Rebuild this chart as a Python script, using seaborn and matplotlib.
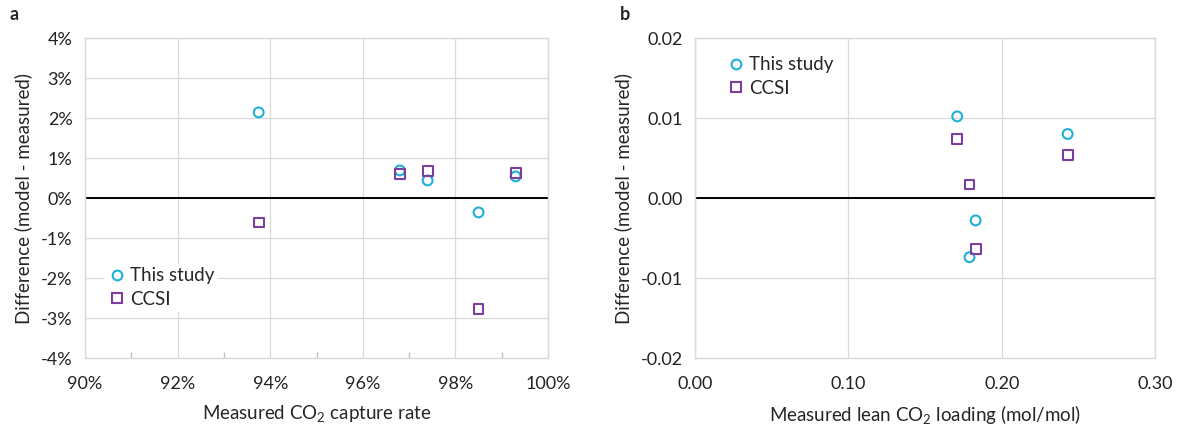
import numpy as np
import pandas as pd
import matplotlib
matplotlib.use("Agg")
import matplotlib.pyplot as plt
import seaborn as sns
from matplotlib.lines import Line2D
from matplotlib.ticker import FuncFormatter, MultipleLocator

# ---- data ----
capture_rate = [0.9375, 0.968, 0.974, 0.985, 0.993]
capture_this_study = [0.0214, 0.0069, 0.0044, -0.0036, 0.0054]
capture_ccsi = [-0.0061, 0.0060, 0.0068, -0.0277, 0.0062]

lean_loading_this = [0.171, 0.243, 0.183, 0.179]
lean_this_study = [0.0102, 0.0080, -0.0028, -0.0074]
lean_loading_ccsi = [0.171, 0.243, 0.179, 0.183]
lean_ccsi = [0.0074, 0.0054, 0.0017, -0.0064]

series_names = ["This study", "CCSI"]
cyan = "#1fb0d6"
purple = "#7a3fa0"

sns.set_theme(style="white")
plt.rcParams['font.family'] = ['Lato', 'DejaVu Sans']
plt.rcParams['mathtext.fontset'] = 'custom'
plt.rcParams['mathtext.rm'] = 'Lato'
plt.rcParams['mathtext.it'] = 'Lato:italic'

fig = plt.figure(figsize=(11.78, 4.30), dpi=100)
ax1 = fig.add_axes([0.0722, 0.1674, 0.393, 0.7442])
ax2 = fig.add_axes([0.590, 0.1674, 0.3905, 0.7442])

grid_c = "#d9d9d9"
fs_tick = 13
fs_lab = 13.5


def style_axes(ax):
    for s in ax.spines.values():
        s.set_color(grid_c)
        s.set_linewidth(1.0)
    ax.grid(True, color=grid_c, linewidth=0.9)
    ax.set_axisbelow(True)
    ax.axhline(0, color="black", linewidth=1.4, zorder=1.5)
    ax.tick_params(axis='both', which='major', length=0, labelsize=fs_tick,
                   colors="#222222")
    ax.tick_params(axis='x', which='major', pad=13)
    ax.tick_params(axis='y', which='major', pad=9)


def scatter_open(ax, x, y, marker, color, label):
    df = pd.DataFrame({"x": x, "y": y})
    sns.scatterplot(data=df, x="x", y="y", ax=ax, marker=marker, s=50,
                    facecolor="none", edgecolor=color, linewidth=1.5,
                    label=label, zorder=3, legend=False)


def legend_handles():
    return [Line2D([], [], linestyle="none", marker="o", markersize=7,
                   markerfacecolor="none", markeredgecolor=cyan, markeredgewidth=1.5,
                   label=series_names[0]),
            Line2D([], [], linestyle="none", marker="s", markersize=7,
                   markerfacecolor="none", markeredgecolor=purple, markeredgewidth=1.5,
                   label=series_names[1])]


# ---- panel a ----
scatter_open(ax1, capture_rate, capture_this_study, "o", cyan, series_names[0])
scatter_open(ax1, capture_rate, capture_ccsi, "s", purple, series_names[1])
style_axes(ax1)
ax1.set_xlim(0.90, 1.00)
ax1.set_ylim(-0.04, 0.04)
ax1.xaxis.set_major_locator(MultipleLocator(0.02))
ax1.xaxis.set_minor_locator(MultipleLocator(0.01))
ax1.yaxis.set_major_locator(MultipleLocator(0.01))
ax1.xaxis.set_major_formatter(FuncFormatter(lambda v, p: f"{v*100:.0f}%"))
ax1.yaxis.set_major_formatter(FuncFormatter(lambda v, p: f"{v*100:.0f}%"))
ax1.tick_params(axis='x', which='minor', bottom=True, direction='in', length=4,
                color="#bfbfbf", width=1)
ax1.set_xlabel("Measured CO$_2$ capture rate", fontsize=fs_lab, labelpad=8)
ax1.set_ylabel("Difference (model - measured)", fontsize=fs_lab, labelpad=6)
leg1 = ax1.legend(handles=legend_handles(), loc="lower left",
                  bbox_to_anchor=(0.04, 0.145), fontsize=fs_lab, frameon=True,
                  handletextpad=0.2, handlelength=1.0, borderpad=0.2,
                  labelspacing=0.35, borderaxespad=0)
leg1.get_frame().set_facecolor("white")
leg1.get_frame().set_edgecolor("none")
leg1.get_frame().set_alpha(1)

# ---- panel b ----
scatter_open(ax2, lean_loading_this, lean_this_study, "o", cyan, series_names[0])
scatter_open(ax2, lean_loading_ccsi, lean_ccsi, "s", purple, series_names[1])
style_axes(ax2)
ax2.set_xlim(0.0, 0.30)
ax2.set_ylim(-0.02, 0.02)
ax2.xaxis.set_major_locator(MultipleLocator(0.10))
ax2.yaxis.set_major_locator(MultipleLocator(0.01))
ax2.xaxis.set_major_formatter(FuncFormatter(lambda v, p: f"{v:.2f}"))
ax2.yaxis.set_major_formatter(FuncFormatter(lambda v, p: f"{v:.2f}"))
ax2.set_xlabel("Measured lean CO$_2$ loading (mol/mol)", fontsize=fs_lab, labelpad=8)
ax2.set_ylabel("Difference (model - measured)", fontsize=fs_lab, labelpad=6)
leg2 = ax2.legend(handles=legend_handles(), loc="upper left",
                  bbox_to_anchor=(0.06, 0.955), fontsize=fs_lab, frameon=False,
                  handletextpad=0.2, handlelength=1.0, borderpad=0.2,
                  labelspacing=0.35, borderaxespad=0)

fig.text(10 / 1178, 1 - 15 / 430, "a", fontsize=13, fontweight="bold", va="center")
fig.text(620 / 1178, 1 - 15 / 430, "b", fontsize=13, fontweight="bold", va="center")

fig.savefig("out.png", dpi=100)
